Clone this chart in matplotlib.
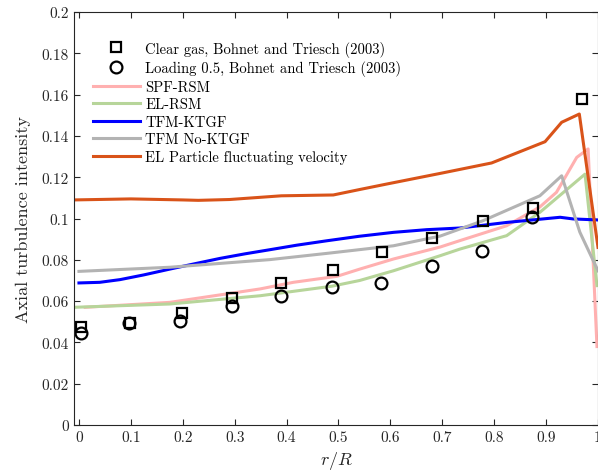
"""Axial turbulence intensity profiles across the cyclone radius."""

import matplotlib
matplotlib.use("Agg")
import matplotlib.pyplot as plt

plt.rcParams.update({
    "font.family": "serif",
    "font.serif": ["cmr10"],
    "mathtext.fontset": "cm",
    "axes.unicode_minus": False,
    "axes.formatter.use_mathtext": True,
})

# Experimental data, Bohnet and Triesch (2003)
exp_clear_x = [0.003, 0.098, 0.198, 0.294, 0.390, 0.489, 0.583, 0.681, 0.778, 0.875, 0.970]
exp_clear_y = [0.0473, 0.0492, 0.0542, 0.0617, 0.0688, 0.0751, 0.0836, 0.0904, 0.0986, 0.105, 0.158]
exp_load_x = [0.003, 0.096, 0.195, 0.294, 0.390, 0.487, 0.582, 0.680, 0.776, 0.873]
exp_load_y = [0.0445, 0.0494, 0.0505, 0.0578, 0.0623, 0.0668, 0.0688, 0.0772, 0.0841, 0.1006]

# Simulation profiles
spf_x = [0.012, 0.175, 0.349, 0.413, 0.497, 0.541, 0.606, 0.696, 0.734, 0.824, 0.888, 0.920, 0.959, 0.981, 0.998]
spf_y = [0.057, 0.0594, 0.0659, 0.0691, 0.072, 0.0755, 0.0804, 0.0862, 0.0893, 0.0965, 0.1056, 0.1127, 0.1296, 0.1337, 0.038]

elrsm_x = [-0.01, 0.175, 0.349, 0.487, 0.541, 0.606, 0.696, 0.734, 0.824, 0.888, 0.975, 0.998]
elrsm_y = [0.057, 0.0586, 0.0626, 0.0672, 0.070, 0.0747, 0.082, 0.0852, 0.0917, 0.103, 0.1215, 0.0675]

ktgf_x = [0.0, 0.04, 0.079, 0.125, 0.175, 0.225, 0.272, 0.32, 0.368, 0.42, 0.477, 0.54, 0.606, 0.67, 0.734, 0.824, 0.927, 0.952, 1.0]
ktgf_y = [0.0688, 0.0691, 0.0704, 0.0727, 0.0755, 0.0782, 0.0807, 0.0829, 0.0849, 0.0871, 0.0892, 0.0914, 0.0933, 0.0946, 0.0954, 0.0981, 0.1006, 0.0998, 0.0993]

noktgf_x = [0.0, 0.175, 0.368, 0.477, 0.606, 0.696, 0.778, 0.888, 0.930, 0.965, 1.0]
noktgf_y = [0.0744, 0.0764, 0.0801, 0.0831, 0.0868, 0.0915, 0.0989, 0.111, 0.1207, 0.0934, 0.0747]

elp_x = [-0.01, 0.1, 0.2, 0.23, 0.29, 0.39, 0.49, 0.54, 0.593, 0.699, 0.795, 0.898, 0.930, 0.964, 1.0]
elp_y = [0.109, 0.1095, 0.109, 0.1088, 0.1092, 0.111, 0.1114, 0.114, 0.1167, 0.122, 0.1269, 0.1372, 0.1466, 0.1506, 0.086]

xticks = [0, 0.1, 0.2, 0.3, 0.4, 0.5, 0.6, 0.7, 0.8, 0.9, 1.0]
xtick_labels = ["0", "0.1", "0.2", "0.3", "0.4", "0.5", "0.6", "0.7", "0.8", "0.9", "1"]
yticks = [0, 0.02, 0.04, 0.06, 0.08, 0.1, 0.12, 0.14, 0.16, 0.18, 0.2]
ytick_labels = ["0", "0.02", "0.04", "0.06", "0.08", "0.1", "0.12", "0.14", "0.16", "0.18", "0.2"]

fig = plt.figure(figsize=(5.98, 4.77), dpi=100)
ax = fig.add_axes([0.1237, 0.1069, 0.8763, 0.8658])

lw = 2.2
l_spf, = ax.plot(spf_x, spf_y, color="#ffb0b0", lw=lw, label="SPF-RSM")
l_el, = ax.plot(elrsm_x, elrsm_y, color="#b7d59a", lw=lw, label="EL-RSM")
l_ktgf, = ax.plot(ktgf_x, ktgf_y, color="#0000ff", lw=lw, label="TFM-KTGF")
l_nok, = ax.plot(noktgf_x, noktgf_y, color="#b3b3b3", lw=lw, label="TFM No-KTGF")
l_elp, = ax.plot(elp_x, elp_y, color="#d95319", lw=lw, label="EL Particle fluctuating velocity")

m_clear, = ax.plot(exp_clear_x, exp_clear_y, ls="none", marker="s", ms=6.5, mfc="none",
                   mec="black", mew=1.6, label="Clear gas, Bohnet and Triesch (2003)")
m_load, = ax.plot(exp_load_x, exp_load_y, ls="none", marker="o", ms=8.5, mfc="none",
                  mec="black", mew=1.6, label="Loading 0.5, Bohnet and Triesch (2003)")

ax.set_xlim(-0.0096, 1.0)
ax.set_ylim(0, 0.2)
ax.set_xticks(xticks)
ax.set_xticklabels(xtick_labels)
ax.set_yticks(yticks)
ax.set_yticklabels(ytick_labels)
ax.tick_params(direction="in", top=True, right=True, length=4, width=0.8,
               labelsize=11, colors="#262626", labelcolor="#262626")
for sp in ax.spines.values():
    sp.set_color("#262626")
    sp.set_linewidth(0.8)

ax.set_xlabel("$r/R$", fontsize=13, color="#262626", labelpad=4)
ax.set_ylabel("Axial turbulence intensity", fontsize=13, color="#262626", labelpad=8)

ax.legend(handles=[m_clear, m_load, l_spf, l_el, l_ktgf, l_nok, l_elp],
          loc="upper left", bbox_to_anchor=(0.025, 0.945), frameon=False,
          fontsize=10.5, handlelength=3.2, handletextpad=0.4, labelspacing=0.26,
          borderaxespad=0)

fig.savefig("out.png", dpi=100)
